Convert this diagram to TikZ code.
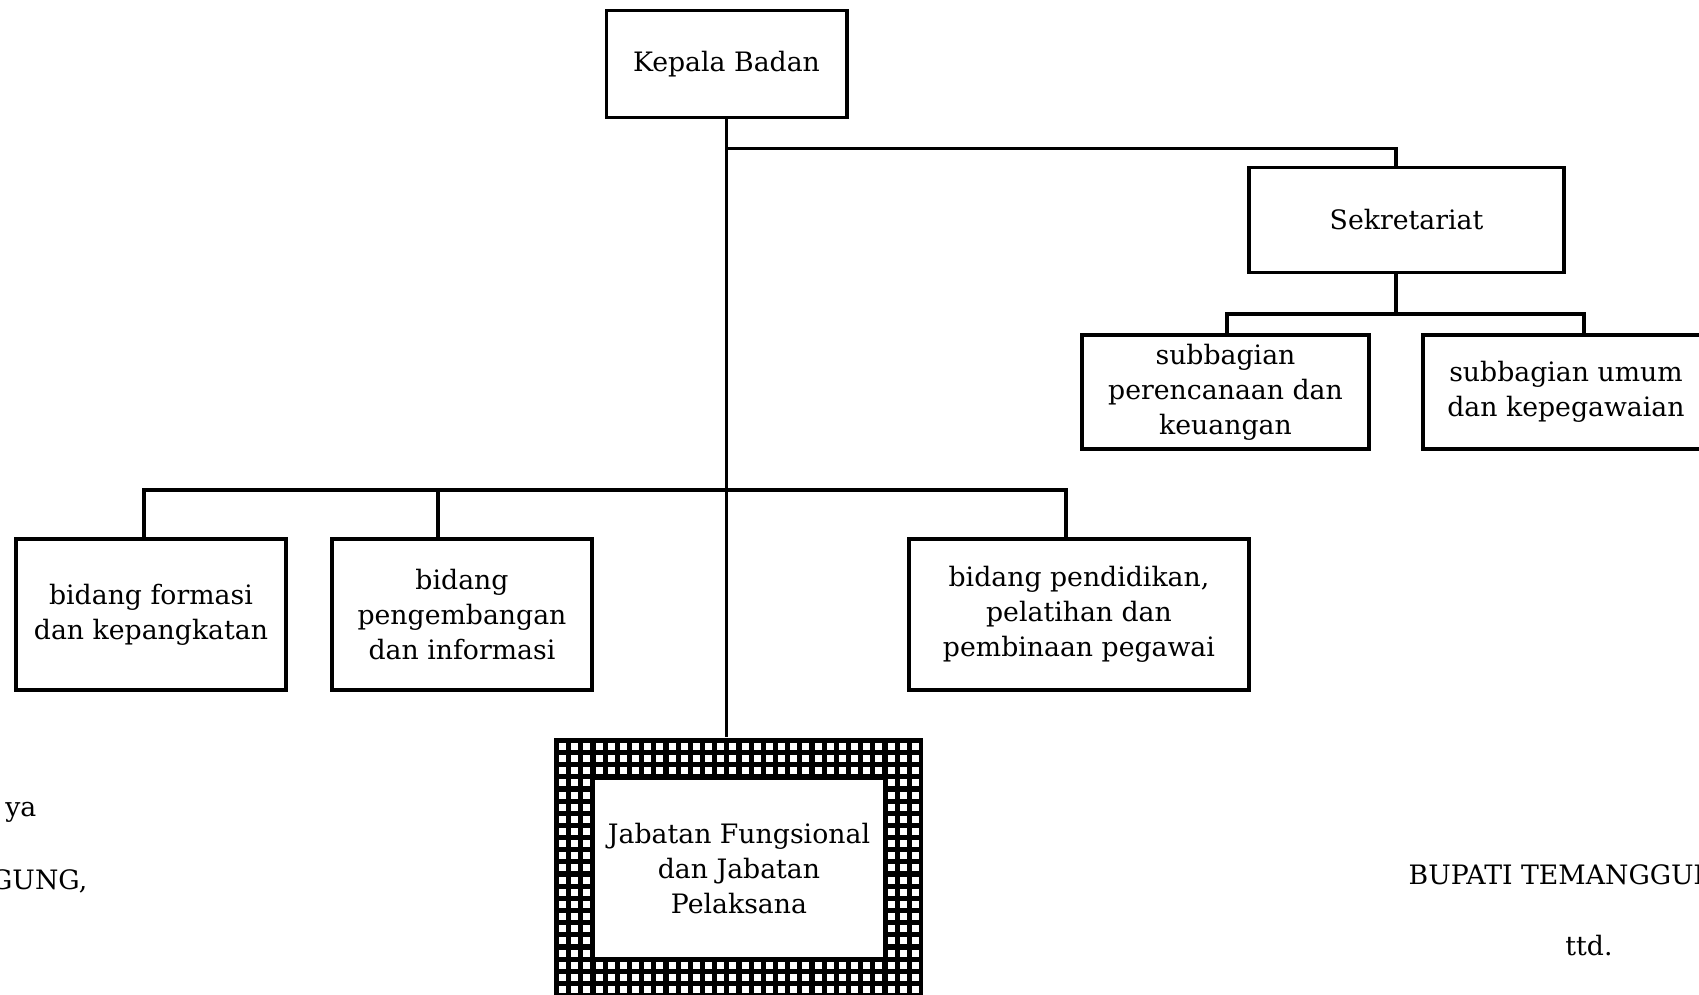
\documentclass[tikz,border=0pt]{standalone}
\usepackage{fontspec}
\setmainfont{DejaVu Serif}
\usepackage{tikz}
\usetikzlibrary{calc}

\newcommand{\orgfont}{\fontsize{7.6}{10}\selectfont}
\tikzset{
	unit/.style={draw, line width=1.1pt, align=center, inner sep=1pt, font=\orgfont},
	link/.style={line width=1.1pt},
	sidetext/.style={inner sep=0pt, font=\orgfont}
}

\begin{document}
\begin{tikzpicture}[x=0.01cm, y=-0.01cm]
	\clip (0,0) rectangle (1699,995);
	\fill[white] (0,0) rectangle (1699,995);

	\node[unit, minimum width=2.40cm, minimum height=1.07cm] (kepala) at (726.5,64) {Kepala Badan};
	\node[unit, minimum width=3.14cm, minimum height=1.05cm] (sekretariat) at (1406.5,220) {Sekretariat};
	\node[unit, minimum width=2.86cm, minimum height=1.14cm] (subrenc) at (1225.5,392) {subbagian\\perencanaan dan\\keuangan};
	\node[unit, minimum width=2.86cm, minimum height=1.14cm] (subumum) at (1566,392) {subbagian umum\\dan kepegawaian};

	\node[unit, minimum width=2.69cm, minimum height=1.51cm] (formasi) at (151,614.5) {bidang formasi\\dan kepangkatan};
	\node[unit, minimum width=2.60cm, minimum height=1.51cm] (pengembangan) at (462,614.5) {bidang\\pengembangan\\dan informasi};
	\node[unit, minimum width=3.39cm, minimum height=1.51cm] (pendidikan) at (1079,614.5) {bidang pendidikan,\\pelatihan dan\\pembinaan pegawai};

	% frame of the functional posts
	\node[fill=black, inner sep=0pt, minimum width=3.69cm, minimum height=2.58cm] (jabframe) at (738.5,867) {};
	\begin{scope}
		\clip (jabframe.north west) rectangle (jabframe.south east);
		\foreach \i in {0,...,29}
			\foreach \j in {0,...,20}
				\fill[white] ({559+12.17*\i},{743+12.15*\j}) rectangle ++(7,7);
	\end{scope}
	\node[unit, fill=white, minimum width=2.915cm, minimum height=1.805cm] (jabatan) at (739,868.5) {Jabatan Fungsional\\dan Jabatan\\Pelaksana};

	\coordinate (sekbar) at (1396,148.5);
	\coordinate (subbar) at (1396,314);
	\coordinate (subl) at (1227,314);
	\coordinate (subr) at (1584,314);
	\coordinate (bid1) at (144,490);
	\coordinate (bid2) at (438,490);
	\coordinate (bid3) at (1066,490);

	\begin{scope}[link]
		\draw (kepala.south) -- (kepala.south |- jabframe.north);
		\draw (kepala.south |- sekbar) -- (sekbar) -- (sekbar |- sekretariat.north);
		\draw (subbar |- sekretariat.south) -- (subbar);
		\draw (subl |- subrenc.north) -- (subl) -- (subr) -- (subr |- subumum.north);
		\draw (bid1 |- formasi.north) -- (bid1) -- (bid3) -- (bid3 |- pendidikan.north);
		\draw (bid2) -- (bid2 |- pengembangan.north);
	\end{scope}

	\node[sidetext, anchor=base east] (leftone) at (37,817) {ya};
	\node[sidetext, anchor=base east] (lefttwo) at (88,890) {GUNG,};
	\node[sidetext, anchor=base west] (bupati) at (1408,885) {BUPATI TEMANGGUNG,};
	\node[sidetext, anchor=base] (ttd) at (1589,956) {ttd.};
\end{tikzpicture}
\end{document}
